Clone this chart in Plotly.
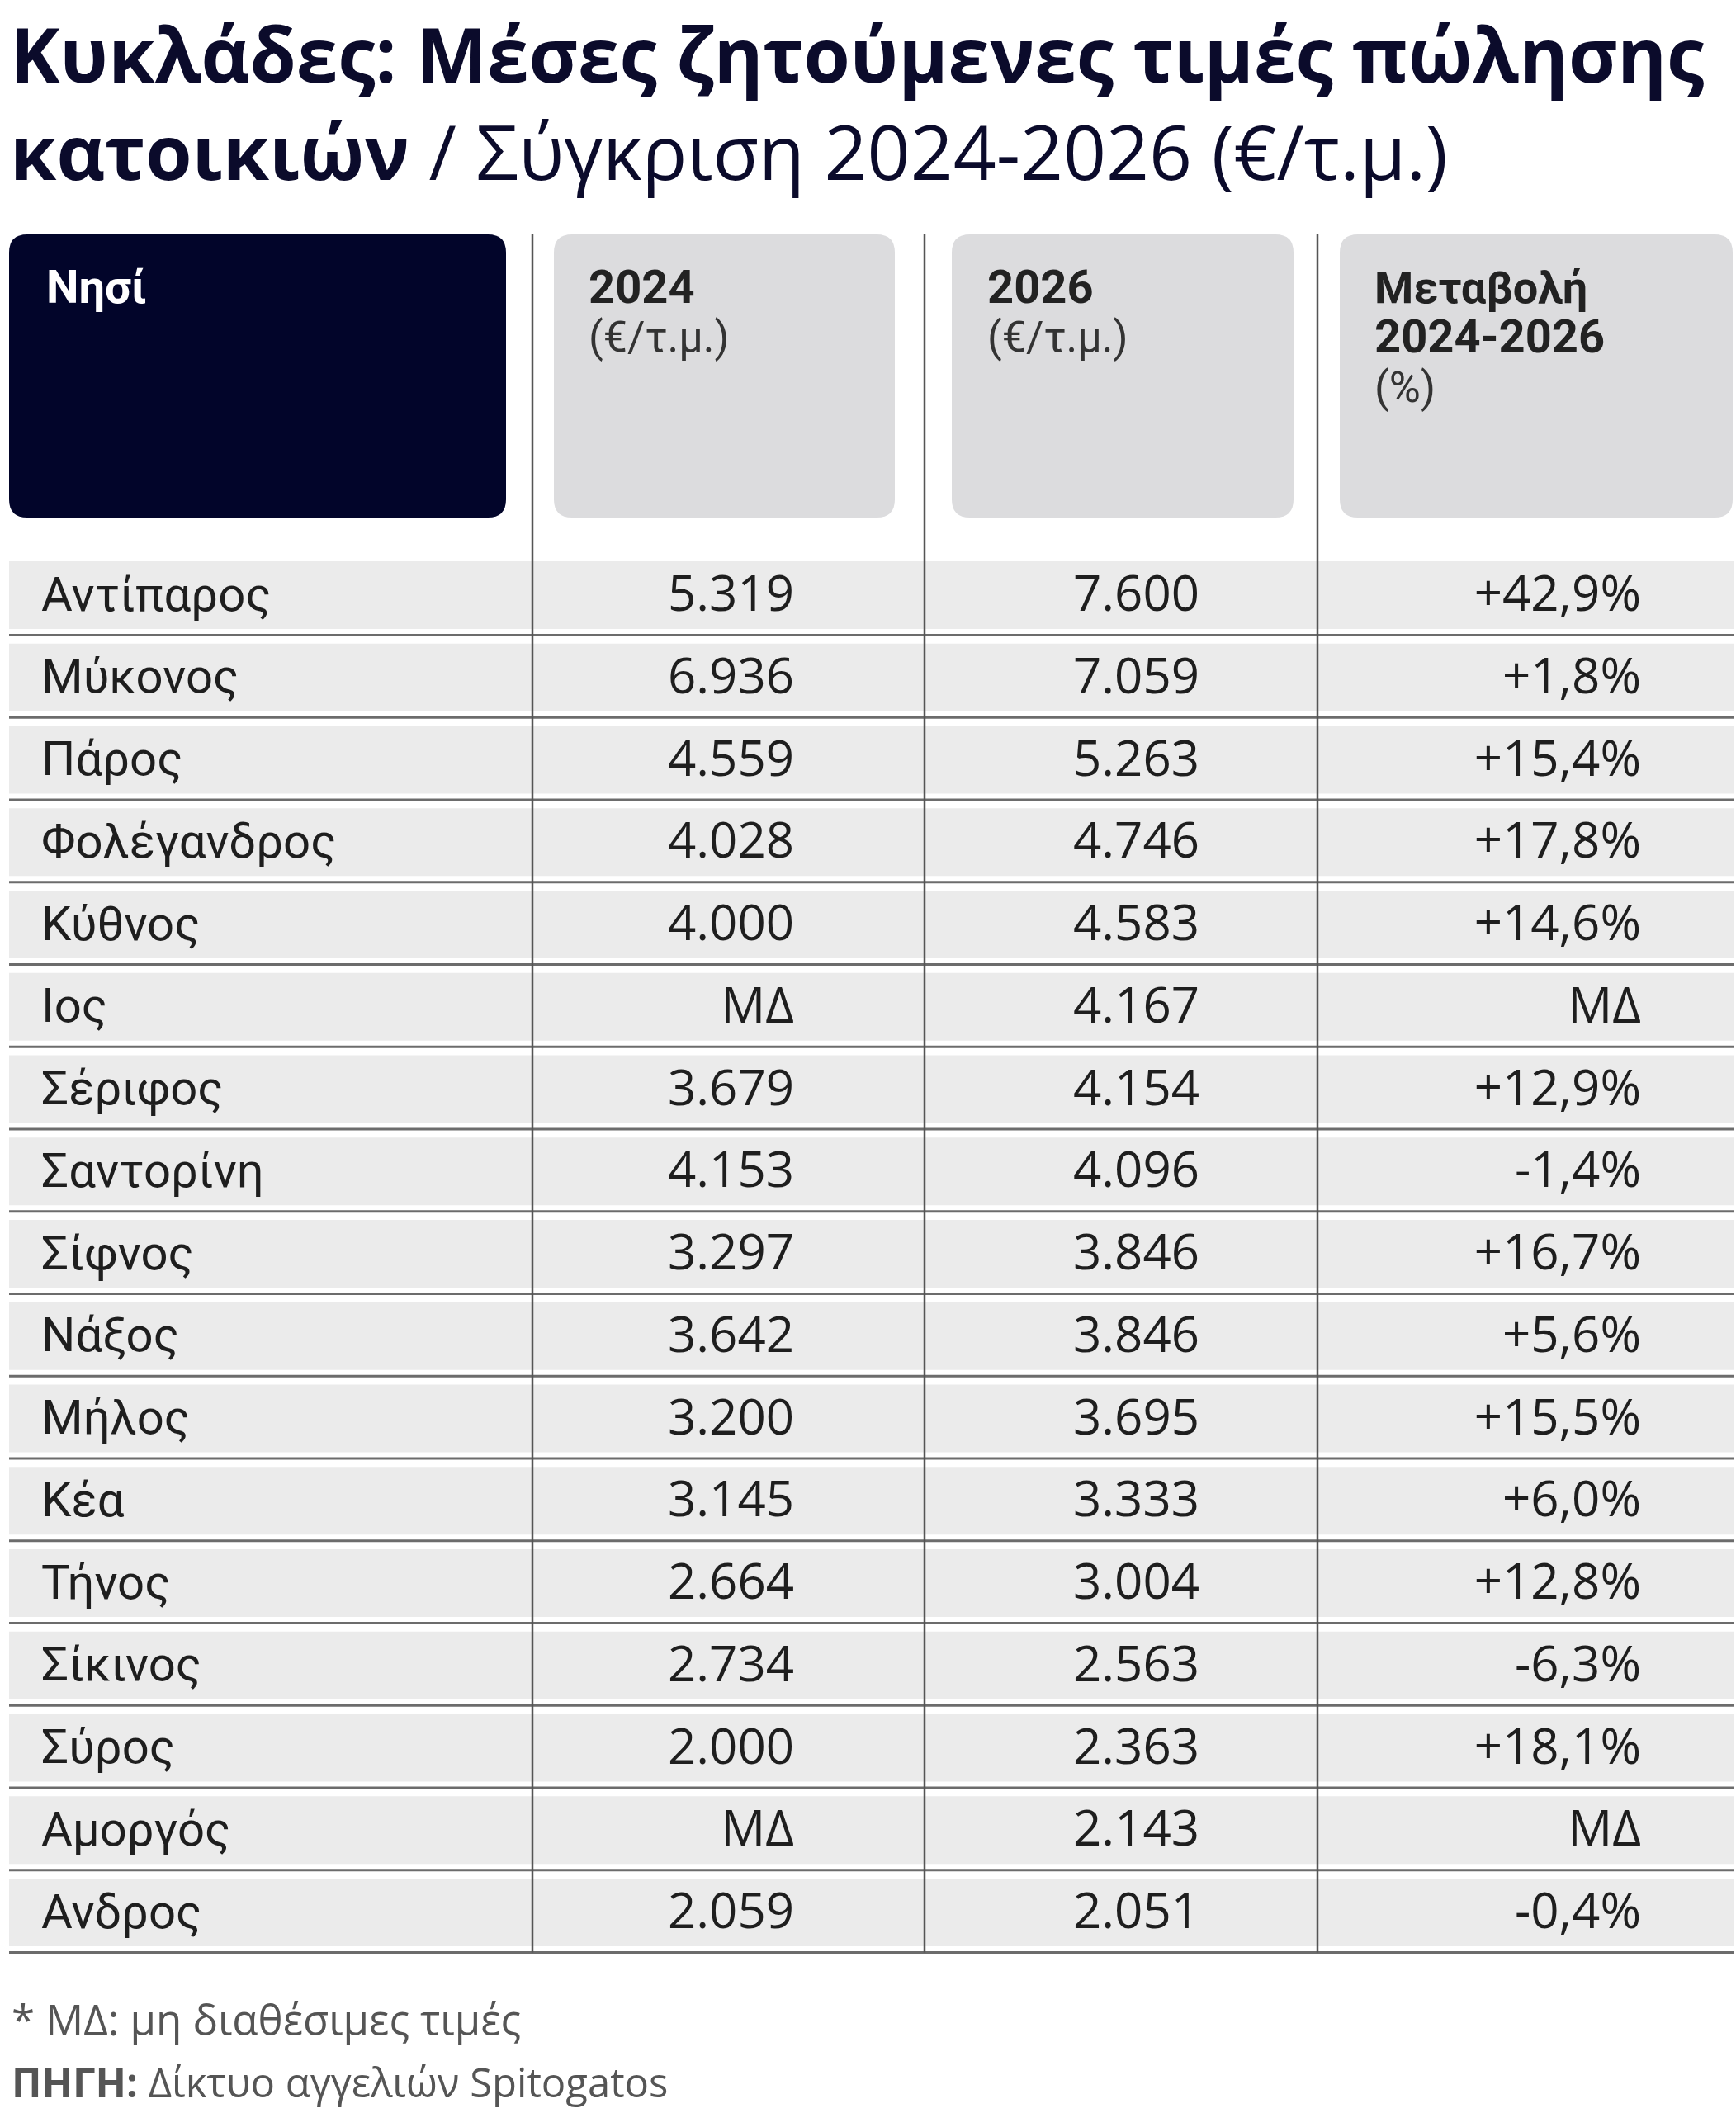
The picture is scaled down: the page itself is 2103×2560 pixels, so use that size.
import plotly.graph_objects as go

# Data
islands = ["Αντίπαρος", "Μύκονος", "Πάρος", "Φολέγανδρος", "Κύθνος", "Ιος", "Σέριφος",
           "Σαντορίνη", "Σίφνος", "Νάξος", "Μήλος", "Κέα", "Τήνος", "Σίκινος", "Σύρος",
           "Αμοργός", "Ανδρος"]
price_2024 = [5319, 6936, 4559, 4028, 4000, None, 3679, 4153, 3297, 3642, 3200, 3145,
              2664, 2734, 2000, None, 2059]
price_2026 = [7600, 7059, 5263, 4746, 4583, 4167, 4154, 4096, 3846, 3846, 3695, 3333,
              3004, 2563, 2363, 2143, 2051]
change_pct = [42.9, 1.8, 15.4, 17.8, 14.6, None, 12.9, -1.4, 16.7, 5.6, 15.5, 6.0,
              12.8, -6.3, 18.1, None, -0.4]

NA = "ΜΔ"


def fmt_price(v):
    return NA if v is None else f"{v:,}".replace(",", ".")


def fmt_pct(v):
    return NA if v is None else f"{v:+.1f}%".replace(".", ",")


W, H = 2103, 2560
FONT = "Open Sans"
NARROW = "Roboto"
NAVY = "#02052a"
TXT = "#1e1e1e"

ROW_TOP, ROW_STEP, ROW_BG = 680, 99.75, 82
HEAD_TOP, HEAD_BOT = 284, 627
# (box left, box right, header text x, value right edge)
cols = [(11, 613, 54, None), (671, 1084, 711, 958), (1153, 1567, 1194, 1449),
        (1623, 2099, 1663, 1984)]
vlines = [645, 1120, 1596]

fig = go.Figure()
shapes = []


def rounded(x0, y0, x1, y1, r, color):
    p = (f"M {x0+r},{y0} L {x1-r},{y0} Q {x1},{y0} {x1},{y0+r} L {x1},{y1-r} "
         f"Q {x1},{y1} {x1-r},{y1} L {x0+r},{y1} Q {x0},{y1} {x0},{y1-r} "
         f"L {x0},{y0+r} Q {x0},{y0} {x0+r},{y0} Z")
    return dict(type="path", path=p, fillcolor=color, line=dict(width=0), layer="below")


# header boxes
for i, (x0, x1, _, _) in enumerate(cols):
    shapes.append(rounded(x0, HEAD_TOP, x1, HEAD_BOT, 22, NAVY if i == 0 else "#dcdcde"))

# row backgrounds and separators
n = len(islands)
centers = []
for i in range(n):
    top = ROW_TOP + i * ROW_STEP
    centers.append(top + 45)
    shapes.append(dict(type="rect", x0=11, x1=2100, y0=top, y1=top + ROW_BG,
                       fillcolor="#ebebeb", line=dict(width=0), layer="below"))
    shapes.append(dict(type="line", x0=11, x1=2100, y0=top + 89.5, y1=top + 89.5,
                       line=dict(color="#6c6c6c", width=3), layer="below"))

bottom = ROW_TOP + (n - 1) * ROW_STEP + 89.5
for x in vlines:
    shapes.append(dict(type="line", x0=x, x1=x, y0=HEAD_TOP, y1=bottom,
                       line=dict(color="#555555", width=2.5), layer="below"))

# cell text
fig.add_trace(go.Scatter(x=[cols[0][2] - 4] * n, y=centers, text=islands, mode="text",
                         textposition="middle right",
                         textfont=dict(family=NARROW, size=58, color=TXT),
                         hoverinfo="skip", showlegend=False))
for col, vals in zip(cols[1:], [[fmt_price(v) for v in price_2024],
                                [fmt_price(v) for v in price_2026],
                                [fmt_pct(v) for v in change_pct]]):
    fig.add_trace(go.Scatter(x=[col[3] + 4] * n, y=centers, text=vals, mode="text",
                             textposition="middle left",
                             textfont=dict(family=FONT, size=60, color=TXT),
                             hoverinfo="skip", showlegend=False))

annotations = []


def note(x, y, text, size, color, family=FONT):
    annotations.append(dict(x=x, y=y, xref="x", yref="y", xanchor="left", yanchor="middle",
                            align="left", text=text, showarrow=False,
                            font=dict(family=family, size=size, color=color)))


# title (two lines in one block)
note(10, 124, "<b>Κυκλάδες: Μέσες ζητούμενες τιμές πώλησης</b><br>"
              "<b>κατοικιών</b> / Σύγκριση 2024-2026 (€/τ.μ.)", 91, "#0b0b2b")

# headers
note(cols[0][2], 348, "<b>Νησί</b>", 56, "white", NARROW)
note(cols[1][2], 348, "<b>2024</b>", 56, "#222222", NARROW)
note(cols[1][2], 408, "(€/τ.μ.)", 52, "#333333", NARROW)
note(cols[2][2], 348, "<b>2026</b>", 56, "#222222", NARROW)
note(cols[2][2], 408, "(€/τ.μ.)", 52, "#333333", NARROW)
note(cols[3][2], 348, "<b>Μεταβολή</b>", 54, "#222222", NARROW)
note(cols[3][2], 408, "<b>2024-2026</b>", 56, "#222222", NARROW)
note(cols[3][2], 469, "(%)", 52, "#333333", NARROW)

# footnotes
note(12, 2446, "* ΜΔ: μη διαθέσιμες τιμές", 51, "#555555")
note(12, 2522, "<b>ΠΗΓΗ:</b> Δίκτυο αγγελιών Spitogatos", 49, "#555555")

fig.update_layout(
    width=W, height=H,
    margin=dict(l=0, r=0, t=0, b=0),
    paper_bgcolor="white", plot_bgcolor="white",
    xaxis=dict(range=[0, W], visible=False, fixedrange=True),
    yaxis=dict(range=[H, 0], visible=False, fixedrange=True),
    shapes=shapes, annotations=annotations,
    font=dict(family=FONT),
)

fig.write_html("out.html", config={"displayModeBar": False},
               post_script="document.body.style.margin='0px';")
